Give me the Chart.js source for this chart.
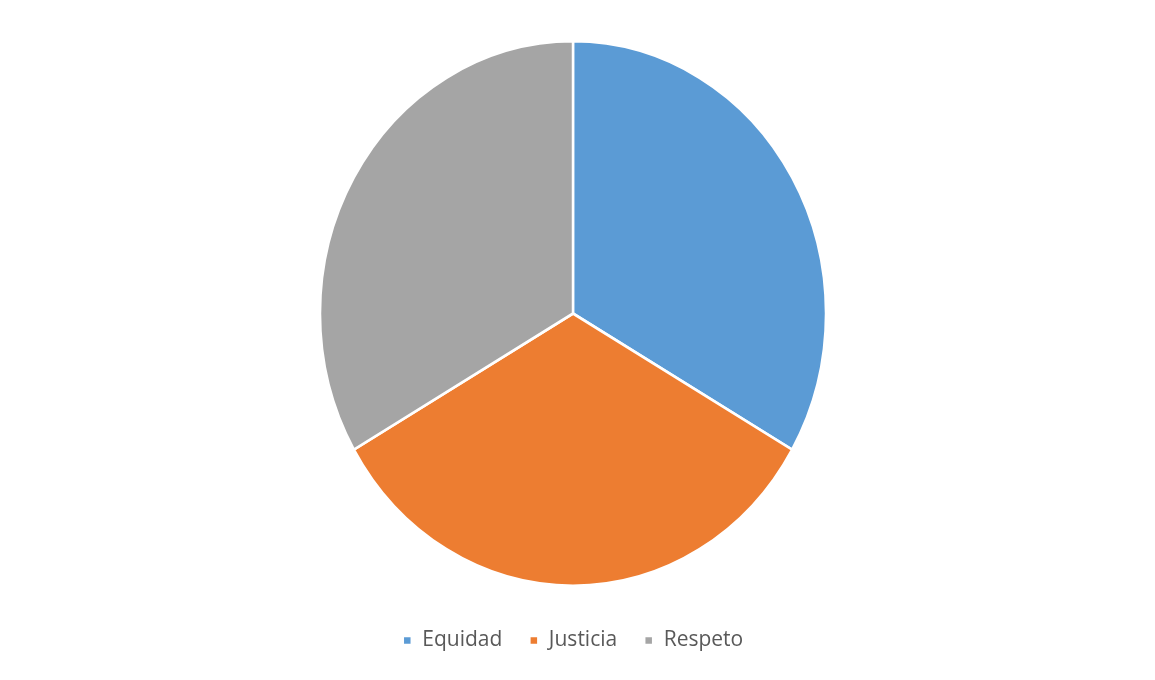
<!DOCTYPE html>
<html>
<head>
<meta charset="utf-8">
<script src="https://cdn.jsdelivr.net/npm/chart.js@4/dist/chart.umd.min.js"></script>
<style>
  html, body { margin: 0; padding: 0; background: #fff; }
  #wrap { width: 1155px; height: 680px; }
</style>
</head>
<body>
<div id="wrap"><canvas id="pie"></canvas></div>
<script>
const labels = ["Equidad", "Justicia", "Respeto"];
const values = [1, 1, 1];
const colors = ["#5B9BD5", "#ED7D31", "#A5A5A5"];

// the original pie is a bit taller than wide, stretch it around its centre
const stretchY = 1.076;
const stretch = {
    id: "stretch",
    beforeDatasetsDraw(chart) {
        const a = chart.chartArea;
        const cx = (a.left + a.right) / 2;
        const cy = (a.top + a.bottom) / 2;
        const ctx = chart.ctx;
        ctx.save();
        ctx.translate(cx, cy);
        ctx.scale(1, stretchY);
        ctx.translate(-cx, -cy);
    },
    afterDatasetsDraw(chart) {
        chart.ctx.restore();
    }
};

new Chart(document.getElementById("pie"), {
    type: "pie",
    data: {
        labels,
        datasets: [{
            data: values,
            backgroundColor: colors,
            borderColor: "#ffffff",
            borderWidth: 2.5
        }]
    },
    options: {
        responsive: true,
        maintainAspectRatio: false,
        animation: false,
        radius: 253,
        layout: { padding: { top: 24, bottom: 19, left: 0, right: 9 } },
        plugins: {
            tooltip: { enabled: false },
            legend: {
                position: "bottom",
                labels: {
                    boxWidth: 9,
                    boxHeight: 9,
                    padding: 27,
                    color: "#595959",
                    font: { family: "'Open Sans'", size: 21 }
                }
            }
        }
    },
    plugins: [stretch]
});
</script>
</body>
</html>
